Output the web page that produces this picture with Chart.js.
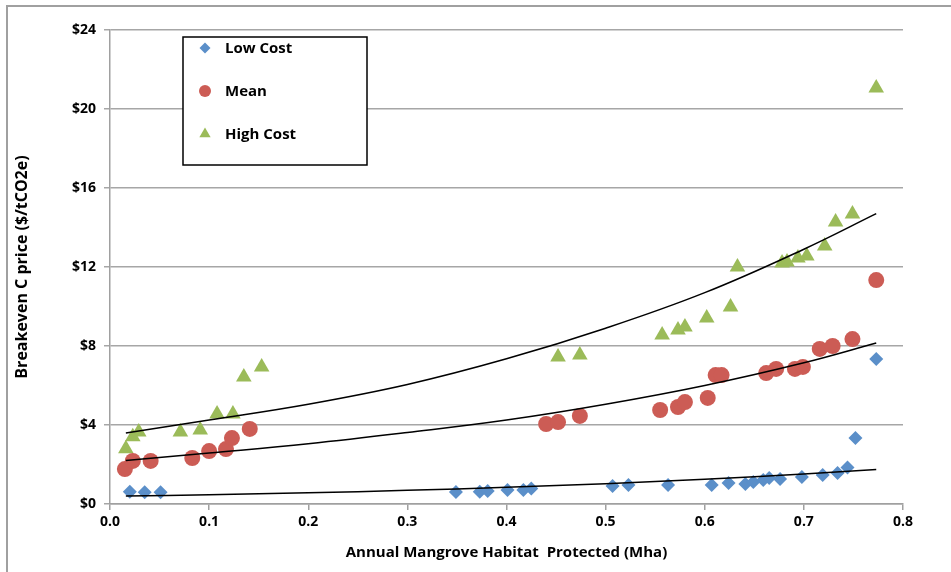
<!DOCTYPE html>
<html>
<head>
<meta charset="utf-8">
<script src="https://cdn.jsdelivr.net/npm/chart.js@4.4.1/dist/chart.umd.min.js"></script>
<style>
html,body{margin:0;padding:0;background:#fff;}
#wrap{position:relative;width:951px;height:572px;}
canvas{display:block;}
</style>
</head>
<body>
<div id="wrap"><canvas id="c" width="951" height="572"></canvas></div>
<script>
// ---- data ----
const lowX  = [0.020,0.035,0.051,0.349,0.373,0.381,0.401,0.417,0.425,0.507,0.523,0.563,0.607,0.624,0.641,0.649,0.659,0.665,0.676,0.698,0.719,0.734,0.744,0.752,0.773];
const lowY  = [0.62,0.60,0.60,0.61,0.62,0.66,0.71,0.71,0.79,0.91,0.96,0.96,0.96,1.06,1.01,1.11,1.22,1.32,1.27,1.37,1.47,1.57,1.85,3.34,7.34];
const meanX = [0.015,0.023,0.041,0.083,0.100,0.117,0.123,0.141,0.440,0.452,0.474,0.555,0.573,0.580,0.603,0.611,0.617,0.662,0.672,0.691,0.699,0.716,0.729,0.749,0.773];
const meanY = [1.77,2.18,2.18,2.33,2.68,2.78,3.34,3.80,4.05,4.15,4.46,4.76,4.91,5.16,5.37,6.53,6.53,6.63,6.84,6.84,6.94,7.85,8.00,8.35,11.34];
const highX = [0.016,0.023,0.029,0.071,0.091,0.108,0.124,0.135,0.153,0.452,0.474,0.557,0.573,0.580,0.602,0.626,0.633,0.678,0.683,0.694,0.703,0.721,0.732,0.749,0.773];
const highY = [2.80,3.40,3.65,3.65,3.75,4.56,4.56,6.43,6.94,7.44,7.54,8.56,8.81,8.96,9.42,9.97,12.0,12.2,12.25,12.46,12.56,13.06,14.28,14.68,21.06];
// trend lines
const trendX     = [0.016,0.1,0.2,0.3,0.4,0.5,0.6,0.7,0.773];
const lowTrendY  = [0.40,0.47,0.57,0.69,0.85,1.03,1.25,1.52,1.75];
const meanTrendY = [2.20,2.58,3.05,3.62,4.25,5.05,6.00,7.15,8.15];
const highTrendY = [3.60,4.25,5.05,6.05,7.35,8.90,10.70,12.90,14.70];
const seriesNames = ["Low Cost","Mean","High Cost"];
const yTicks = [0,4,8,12,16,20,24];
const xTicks = [0,0.1,0.2,0.3,0.4,0.5,0.6,0.7,0.8];
const xTitle = "Annual Mangrove Habitat  Protected (Mha)";
const yTitle = "Breakeven C price ($/tCO2e)";

const FONT = "'Open Sans', 'Noto Sans', sans-serif";
const pts = (xs, ys) => xs.map((x,i)=>({x:x, y:ys[i]}));

const frame = {
  id:'frame',
  beforeDraw(chart){
    const ctx = chart.ctx;
    ctx.save();
    ctx.strokeStyle = '#a0a0a0';
    ctx.lineWidth = 2;
    ctx.beginPath();
    ctx.moveTo(7, 572); ctx.lineTo(7, 6); ctx.lineTo(951, 6);
    ctx.stroke();
    ctx.restore();
  }
};

const legendBox = {
  id:'legendBox',
  afterDraw(chart){
    const ctx = chart.ctx, a = chart.chartArea;
    const L = a.left + 73, T = a.top + 7, W = 184, H = 128;
    ctx.save();
    ctx.fillStyle = '#fff';
    ctx.fillRect(L, T, W, H);
    ctx.strokeStyle = '#000';
    ctx.lineWidth = 1.5;
    ctx.strokeRect(L, T, W, H);
    ctx.font = "bold 15px " + FONT;
    ctx.textBaseline = 'middle';
    const legR = [5.5, 6, 6.5];
    for (let i = 0; i < 3; i++) {
      const ds = chart.data.datasets[i];
      const cy = T + 11 + i * 43;
      ctx.fillStyle = ds.backgroundColor;
      ctx.strokeStyle = ds.backgroundColor;
      Chart.helpers.drawPoint(ctx, {pointStyle: ds.pointStyle, radius: legR[i], borderWidth: 0}, L + 22, cy);
      ctx.fillStyle = '#000';
      ctx.fillText(seriesNames[i], L + 42, cy + 1);
    }
    ctx.restore();
  }
};

new Chart(document.getElementById('c'), {
  type: 'scatter',
  data: {
    datasets: [
      {label: seriesNames[0], data: pts(lowX, lowY), pointStyle:'rectRot', pointRadius:7, backgroundColor:'#5b8fc9', borderColor:'#5b8fc9', borderWidth:0, order:2},
      {label: seriesNames[1], data: pts(meanX, meanY), pointStyle:'circle', pointRadius:8, backgroundColor:'#cc5c55', borderColor:'#cc5c55', borderWidth:0, order:2},
      {label: seriesNames[2], data: pts(highX, highY), pointStyle:'triangle', pointRadius:9, backgroundColor:'#9bbb59', borderColor:'#9bbb59', borderWidth:0, order:2},
      {type:'line', data: pts(trendX, lowTrendY), borderColor:'#000', borderWidth:1.5, pointRadius:0, tension:0.4, fill:false, order:1},
      {type:'line', data: pts(trendX, meanTrendY), borderColor:'#000', borderWidth:1.5, pointRadius:0, tension:0.4, fill:false, order:1},
      {type:'line', data: pts(trendX, highTrendY), borderColor:'#000', borderWidth:1.5, pointRadius:0, tension:0.4, fill:false, order:1}
    ]
  },
  options: {
    responsive:false,
    animation:false,
    events:[],
    layout:{padding:{top:30, right:48, left:0, bottom:0}},
    plugins:{legend:{display:false}, tooltip:{enabled:false}},
    scales:{
      x:{
        type:'linear', min:0, max:0.8,
        afterBuildTicks(s){ s.ticks = xTicks.map(v=>({value:v})); },
        afterFit(s){ s.height = 68; },
        ticks:{callback:v=>Number(v).toFixed(1), font:{family:FONT, size:14, weight:'bold'}, color:'#000', padding:4, maxRotation:0},
        grid:{display:true, drawOnChartArea:false, drawTicks:true, tickLength:6, color:'#a0a0a0', lineWidth:1.5},
        border:{display:true, color:'#a0a0a0', width:1.5},
        title:{display:true, text:xTitle, font:{family:FONT, size:15, weight:'bold'}, color:'#000', padding:{top:8, bottom:10}}
      },
      y:{
        type:'linear', min:0, max:24,
        afterBuildTicks(s){ s.ticks = yTicks.map(v=>({value:v})); },
        afterFit(s){ s.width = 110; },
        ticks:{callback:v=>'$'+v, font:{family:FONT, size:14, weight:'bold'}, color:'#000', padding:8},
        grid:{display:true, drawOnChartArea:true, drawTicks:true, tickLength:6, color:'#a6a6a6', lineWidth:1.5},
        border:{display:true, color:'#a0a0a0', width:1.5},
        title:{display:true, text:yTitle, font:{family:FONT, size:16, weight:'bold'}, color:'#000', padding:{top:13, bottom:10}}
      }
    }
  },
  plugins:[frame, legendBox]
});
</script>
</body>
</html>
